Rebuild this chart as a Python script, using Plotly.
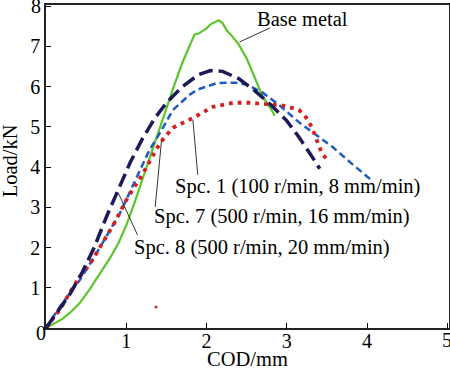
import plotly.graph_objects as go

# ---- data ----
base_x = [0, 0.1, 0.2, 0.3, 0.42, 0.55, 0.67, 0.8, 0.9, 1.0, 1.1, 1.2, 1.3, 1.4, 1.5, 1.6, 1.7,
          1.8, 1.85, 1.9, 1.95, 2.0, 2.05, 2.1, 2.15, 2.2, 2.25, 2.3, 2.4, 2.5, 2.6, 2.7, 2.8, 2.85]
base_y = [0, 0.1, 0.22, 0.38, 0.62, 0.98, 1.35, 1.75, 2.1, 2.55, 3.1, 3.7, 4.3, 4.9, 5.5, 6.05, 6.6,
          7.1, 7.3, 7.32, 7.38, 7.45, 7.55, 7.6, 7.65, 7.58, 7.4, 7.3, 7.05, 6.7, 6.2, 5.75, 5.45, 5.28]

spc8_x = [0, 0.15, 0.3, 0.45, 0.6, 0.75, 0.9, 1.05, 1.2, 1.35, 1.5, 1.7, 1.9, 2.05, 2.2, 2.4, 2.6,
          2.8, 3.0, 3.15, 3.3, 3.41]
spc8_y = [0, 0.42, 0.85, 1.38, 2.0, 2.75, 3.45, 4.12, 4.7, 5.2, 5.6, 6.0, 6.3, 6.4, 6.38, 6.2, 5.9,
          5.55, 5.15, 4.75, 4.3, 3.96]

spc7_x = [0, 0.17, 0.42, 0.63, 0.92, 1.1, 1.29, 1.42, 1.58, 1.79, 1.88, 2.13, 2.35, 2.5, 2.7, 2.9,
          3.16, 3.4, 3.57, 3.8, 4.07]
spc7_y = [0, 0.52, 1.19, 1.86, 2.85, 3.6, 4.43, 4.85, 5.42, 5.8, 5.92, 6.09, 6.1, 6.05, 5.85, 5.55,
          5.1, 4.75, 4.5, 4.1, 3.65]

spc1_x = [0, 0.17, 0.34, 0.42, 0.55, 0.67, 0.85, 1.0, 1.21, 1.42, 1.58, 1.83, 2.08, 2.33, 2.54,
          2.83, 2.91, 3.05, 3.15, 3.22, 3.31, 3.37, 3.43, 3.51]
spc1_y = [0, 0.45, 1.02, 1.27, 1.6, 2.0, 2.6, 3.18, 3.85, 4.6, 4.98, 5.22, 5.5, 5.6, 5.6,
          5.55, 5.55, 5.48, 5.42, 5.3, 5.0, 4.68, 4.38, 4.15]

stray_x = [1.37]
stray_y = [0.52]

x_ticks = [0, 1, 2, 3, 4, 5]
x_ticktext = ["", "1", "2", "3", "4", ""]
y_ticks = [0, 1, 2, 3, 4, 5, 6, 7, 8]
y_ticktext = ["", "1", "2", "3", "4", "5", "6", "7", ""]

x_title = "COD/mm"
y_title = "Load/kN"

labels = ["Base metal",
          "Spc. 1 (100 r/min, 8 mm/min)",
          "Spc. 7 (500 r/min, 16 mm/min)",
          "Spc. 8 (500 r/min, 20 mm/min)"]
label_pos = [(3.20, 7.69, "center"), (1.58, 3.51, "left"), (1.32, 2.76, "left"), (1.07, 2.01, "left")]
leaders = [((2.41, 7.11), (2.79, 7.46)),
           ((1.83, 5.17), (1.89, 3.81)),
           ((1.44, 4.68), (1.36, 3.01)),
           ((0.90, 3.36), (1.14, 2.31))]

FONT = "Liberation Serif, Times New Roman, serif"
TICK_SIZE = 20

fig = go.Figure()
fig.add_trace(go.Scatter(x=base_x, y=base_y, mode="lines",
                         line=dict(color="#5cc52a", width=2.2)))
fig.add_trace(go.Scatter(x=spc7_x, y=spc7_y, mode="lines",
                         line=dict(color="#1f5cc0", width=2.5, dash="7px,4px")))
fig.add_trace(go.Scatter(x=spc1_x, y=spc1_y, mode="lines",
                         line=dict(color="#d42020", width=3.8, dash="3.8px,5px")))
fig.add_trace(go.Scatter(x=spc8_x, y=spc8_y, mode="lines",
                         line=dict(color="#1c1a58", width=3.5, dash="14px,6px")))
fig.add_trace(go.Scatter(x=stray_x, y=stray_y, mode="markers",
                         marker=dict(color="#c03030", size=3)))

for (p0, p1) in leaders:
    fig.add_shape(type="line", x0=p0[0], y0=p0[1], x1=p1[0], y1=p1[1],
                  line=dict(color="#333333", width=1))

for txt, (lx, ly, anc) in zip(labels, label_pos):
    fig.add_annotation(x=lx, y=ly, text=txt, showarrow=False, xanchor=anc, yanchor="middle",
                       font=dict(family=FONT, size=20.5, color="black"))

# end tick labels (drawn as text so they are not dropped at the figure edge)
fig.add_annotation(x=0, y=0, xref="paper", yref="y", text="0", showarrow=False,
                   xanchor="center", yanchor="middle", xshift=-5, yshift=-5,
                   font=dict(family=FONT, size=TICK_SIZE, color="black"))
fig.add_annotation(x=0, y=y_ticks[-1], xref="paper", yref="y", text=str(y_ticks[-1]), showarrow=False,
                   xanchor="right", yanchor="middle", xshift=-3,
                   font=dict(family=FONT, size=TICK_SIZE, color="black"))
fig.add_annotation(x=x_ticks[-1], y=0, xref="x", yref="paper", text=str(x_ticks[-1]), showarrow=False,
                   xanchor="center", yanchor="middle", yshift=-12,
                   font=dict(family=FONT, size=TICK_SIZE, color="black"))

# axis titles
fig.add_annotation(x=0.5, y=-0.096, xref="paper", yref="paper", text=x_title, showarrow=False,
                   xanchor="center", yanchor="middle", font=dict(family=FONT, size=20.5, color="black"))
fig.add_annotation(x=-0.0893, y=0.516, xref="paper", yref="paper", text=y_title, showarrow=False,
                   textangle=-90, xanchor="center", yanchor="middle",
                   font=dict(family=FONT, size=20.5, color="black"))

fig.update_layout(
    width=450, height=368,
    margin=dict(l=46, r=1, t=5, b=40, autoexpand=False),
    paper_bgcolor="white", plot_bgcolor="white",
    showlegend=False,
    font=dict(family=FONT, size=TICK_SIZE, color="black"),
)
fig.update_xaxes(range=[0, 5.02], tickvals=x_ticks, ticktext=x_ticktext, automargin=False,
                 ticks="inside", ticklen=5, tickcolor="black", tickwidth=1,
                 ticklabelstandoff=-6,
                 showline=True, linecolor="#222222", linewidth=1.5, mirror=True,
                 showgrid=False, zeroline=False,
                 tickfont=dict(family=FONT, size=TICK_SIZE))
fig.update_yaxes(range=[0, 8.03], tickvals=y_ticks, ticktext=y_ticktext, automargin=False,
                 ticks="inside", ticklen=5, tickcolor="black", tickwidth=1,
                 showline=True, linecolor="#222222", linewidth=1.5, mirror=True,
                 showgrid=False, zeroline=False,
                 tickfont=dict(family=FONT, size=TICK_SIZE))

fig.write_html("out.html", config={"displayModeBar": False},
               post_script="document.body.style.margin='0';document.body.style.padding='0';")
